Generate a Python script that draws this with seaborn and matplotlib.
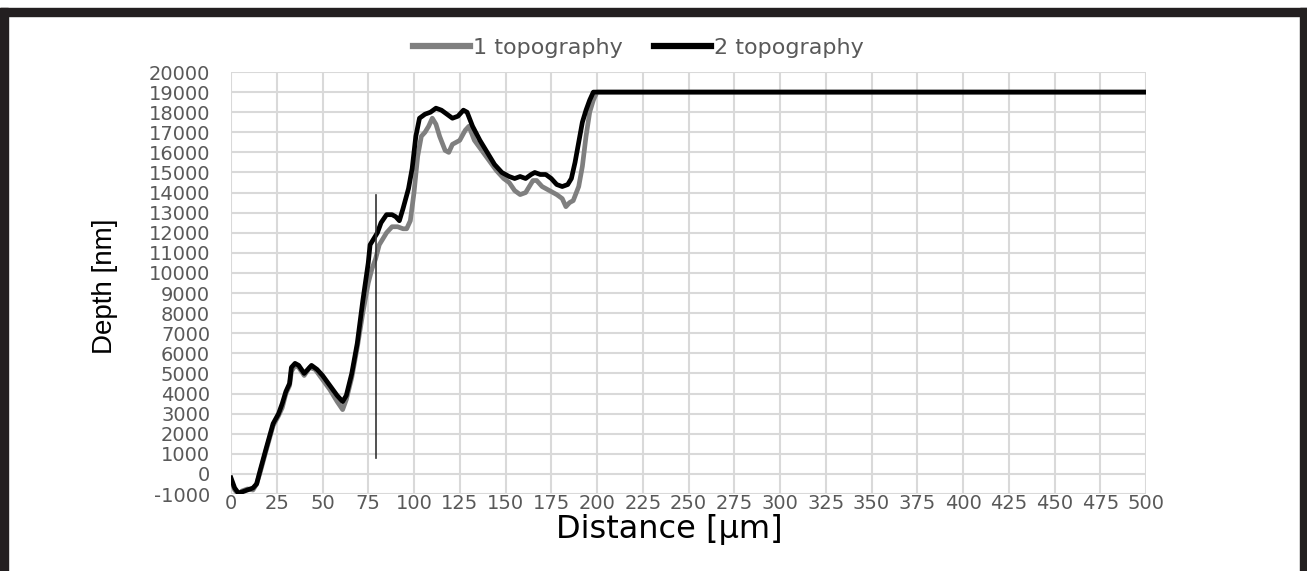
import matplotlib.pyplot as plt
import matplotlib.patches as patches
import pandas as pd
import seaborn as sns

plt.rcParams["axes.unicode_minus"] = False

# Data
dist_1 = [0, 2, 4, 6, 9, 12, 14, 16, 19, 23, 26, 28, 30, 32, 33, 35, 37, 40, 43, 46,
          50, 54, 58, 61, 63, 66, 69, 72, 75, 77, 79, 81, 83, 85, 88, 91, 94, 96, 98, 100,
          102, 104, 106, 108, 110, 112, 114, 117, 119, 121, 123, 125, 128, 130, 133, 137,
          141, 145, 149, 152, 155, 158, 161, 163, 165, 167, 170, 174, 178, 181, 183, 185,
          187, 190, 192, 194, 196, 198, 200, 500]
depth_1 = [-300, -800, -1000, -850, -750, -800, -500, 100, 1100, 2400, 2900, 3300, 4000, 4400,
           5100, 5400, 5300, 4900, 5300, 5200, 4700, 4200, 3600, 3200, 3700, 4800, 6300, 8000,
           9500, 10200, 10700, 11400, 11700, 12000, 12300, 12300, 12200, 12200, 12600, 14000,
           15800, 16800, 17000, 17300, 17700, 17400, 16800, 16100, 16000, 16400, 16500, 16600,
           17100, 17300, 16600, 16100, 15600, 15100, 14700, 14500, 14100, 13900, 14000, 14300,
           14600, 14600, 14300, 14100, 13900, 13700, 13300, 13500, 13600, 14300, 15300, 16800,
           18000, 18600, 19000, 19000]

dist_2 = [0, 2, 4, 6, 9, 12, 14, 16, 19, 23, 26, 28, 30, 32, 33, 35, 37, 40, 44, 47,
          50, 54, 58, 61, 63, 66, 69, 72, 75, 76, 78, 80, 82, 85, 88, 90, 92, 94, 97, 99,
          101, 103, 106, 109, 112, 115, 118, 121, 124, 127, 129, 132, 136, 140, 144, 148,
          152, 155, 158, 161, 164, 166, 169, 172, 175, 178, 181, 184, 186, 188, 190, 192,
          194, 196, 198, 500]
depth_2 = [-200, -700, -950, -900, -800, -700, -500, 200, 1200, 2500, 3000, 3500, 4100, 4500,
           5300, 5500, 5400, 5000, 5400, 5200, 4900, 4400, 3900, 3600, 3900, 5000, 6500, 8600,
           10500, 11400, 11700, 12000, 12500, 12900, 12900, 12800, 12600, 13200, 14200, 15200,
           16800, 17700, 17900, 18000, 18200, 18100, 17900, 17700, 17800, 18100, 18000, 17300,
           16600, 16000, 15400, 15000, 14800, 14700, 14800, 14700, 14900, 15000, 14900, 14900,
           14700, 14400, 14300, 14400, 14700, 15500, 16500, 17500, 18100, 18600, 19000, 19000]

marker_x = [79, 79]
marker_y = [800, 13900]

x_ticks = list(range(0, 501, 25))
y_ticks = list(range(-1000, 20001, 1000))

df = pd.concat([
    pd.DataFrame({"dist": dist_1, "depth": depth_1, "series": "1 topography"}),
    pd.DataFrame({"dist": dist_2, "depth": depth_2, "series": "2 topography"}),
])

fig = plt.figure(figsize=(13.07, 5.71), dpi=100)
ax = fig.add_axes([231 / 1307, 1 - 494 / 571, 915 / 1307, 422 / 571])

sns.lineplot(data=df, x="dist", y="depth", hue="series",
             palette={"1 topography": "#7f7f7f", "2 topography": "#000000"},
             linewidth=3.4, legend=False, ax=ax, estimator=None, sort=False)
ax.plot(marker_x, marker_y, color="#333333", linewidth=1.2)

ax.set_xlim(0, 500)
ax.set_ylim(-1000, 20000)
ax.set_xticks(x_ticks)
ax.set_yticks(y_ticks)
ax.grid(True, color="#d9d9d9", linewidth=1.5)
ax.set_axisbelow(True)
for s in ax.spines.values():
    s.set_visible(False)
ax.tick_params(length=0, labelsize=14, labelcolor="#595959")
ax.tick_params(axis="y", pad=15)
ax.tick_params(axis="x", pad=0)

ax.set_xlabel("Distance [µm]", fontsize=23, color="black", va="center")
ax.xaxis.set_label_coords(0.479, -0.085)
ax.set_ylabel("Depth [nm]", fontsize=20, color="black", family="Liberation Sans", va="center")
ax.yaxis.set_label_coords(-0.138, 0.493)

handles = ax.lines[:2]
fig.legend(handles, ["1 topography", "2 topography"], loc="center",
           bbox_to_anchor=(638 / 1307, 1 - 48 / 571), ncol=2, frameon=False,
           fontsize=16, labelcolor="#595959", handlelength=2.6, handletextpad=0.1,
           columnspacing=1.4)
for h in fig.legends[0].get_lines():
    h.set_linewidth(4.5)

# dark frame around the picture
frame = "#231f20"
fig.patches.append(patches.Rectangle((0, 1 - 16 / 571), 1, 8 / 571, transform=fig.transFigure,
                                     color=frame, zorder=0))
fig.patches.append(patches.Rectangle((0, 0), 8 / 1307, 1 - 8 / 571, transform=fig.transFigure,
                                     color=frame, zorder=0))
fig.patches.append(patches.Rectangle((1 - 7 / 1307, 0), 7 / 1307, 1 - 8 / 571,
                                     transform=fig.transFigure, color=frame, zorder=0))

fig.savefig("out.png", dpi=100)
